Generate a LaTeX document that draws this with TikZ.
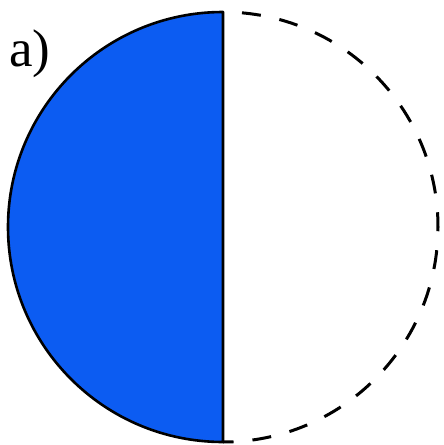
\documentclass[tikz,border=0pt]{standalone}
\usepackage{fontspec}
\setmainfont{Liberation Serif}
\definecolor{halfblue}{RGB}{12,92,242}
\begin{document}
\begin{tikzpicture}[x=1pt,y=-1pt,
  solidedge/.style={line width=2.6pt,line join=round},
  dashedge/.style={line width=3pt,dash pattern=on 19pt off 19pt,dash phase=19pt}]
\useasboundingbox (0,0) rectangle (444,445);
\coordinate (c) at (223,227);
\coordinate (top) at (223,12);
\coordinate (bot) at (223,442);
\fill[halfblue] (top) arc[start angle=-90,end angle=-270,radius=215] -- cycle;
\draw[solidedge] (bot) -- (top) arc[start angle=-90,end angle=-270,radius=215];
\draw[dashedge] (top) arc[start angle=-90,end angle=90,radius=215];
\node[font=\fontsize{53}{56}\selectfont,anchor=west,inner sep=0pt] (lbl) at (9,54) {a)};
\end{tikzpicture}
\end{document}
